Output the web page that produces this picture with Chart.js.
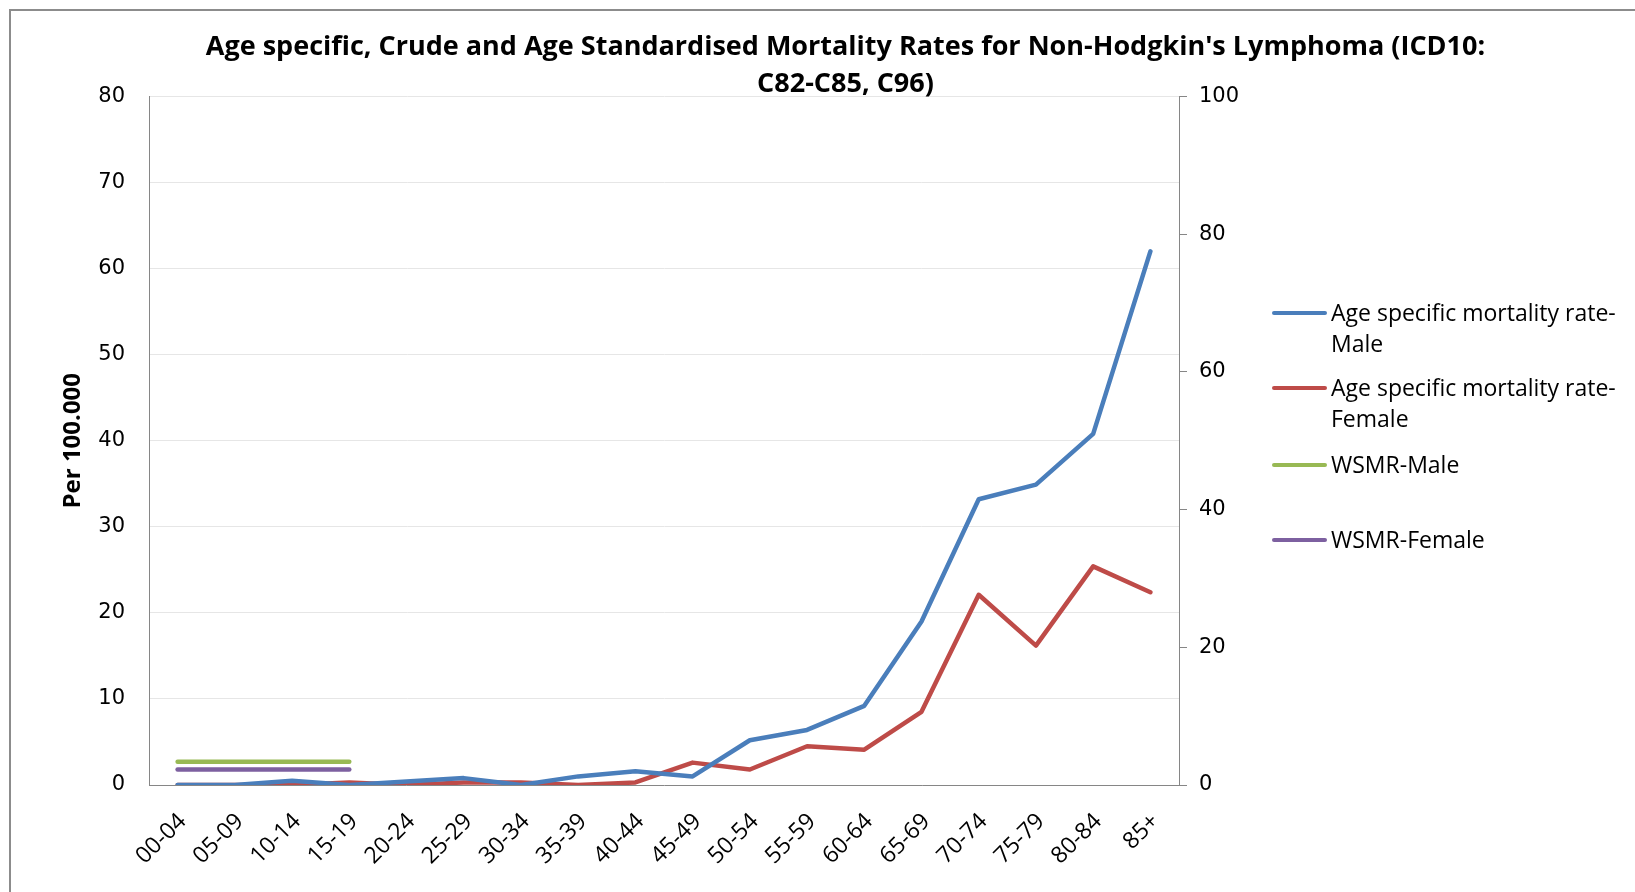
<!DOCTYPE html>
<html>
<head>
<meta charset="utf-8">
<script src="https://cdn.jsdelivr.net/npm/chart.js@4.4.1/dist/chart.umd.min.js"></script>
<style>
  html, body { margin: 0; padding: 0; background: #fff; }
  #wrap { position: relative; width: 1635px; height: 892px; overflow: hidden; background: #fff; }
  #frame { position: absolute; left: 9px; top: 9px; right: -10px; bottom: -10px;
           border-top: 2px solid #8c8c8c; border-left: 2px solid #8c8c8c; }
  #chart { position: absolute; left: 0; top: 0; }
  #legend { position: absolute; left: 1272px; top: 0; font-family: "Open Sans"; font-size: 23px; color: #000; }
  .item { position: absolute; left: 0; }
  .swatch { position: absolute; left: 0; width: 55px; height: 4px; border-radius: 2px; }
  .label { position: absolute; left: 59px; width: 304px; line-height: 31px; white-space: normal; }
</style>
</head>
<body>
<div id="wrap">
  <div id="frame"></div>
  <canvas id="chart" width="1635" height="892"></canvas>
  <div id="legend"></div>
</div>
<script>
// age groups
const ageGroups = ['00-04', '05-09', '10-14', '15-19', '20-24', '25-29', '30-34', '35-39', '40-44',
  '45-49', '50-54', '55-59', '60-64', '65-69', '70-74', '75-79', '80-84', '85+'];

// per 100.000
const maleRate = [0, 0, 0.5, 0, 0.4, 0.8, 0, 1.0, 1.6, 1.0, 5.2, 6.4, 9.2, 19.0, 33.2, 34.9, 40.8, 62.0];
const femaleRate = [0, 0, 0, 0.3, 0, 0.3, 0.3, 0, 0.3, 2.6, 1.8, 4.5, 4.1, 8.5, 22.1, 16.2, 25.4, 22.4];
const wsmrMale = [2.7, 2.7, 2.7, 2.7, null, null, null, null, null, null, null, null, null, null, null, null, null, null];
const wsmrFemale = [1.8, 1.8, 1.8, 1.8, null, null, null, null, null, null, null, null, null, null, null, null, null, null];

const leftTicks = { min: 0, max: 80, step: 10 };
const rightTicks = { min: 0, max: 100, step: 20 };

const seriesLabels = ['Age specific mortality rate-Male', 'Age specific mortality rate-Female', 'WSMR-Male', 'WSMR-Female'];
const seriesColors = ['#4A7EBB', '#BE4B48', '#98B954', '#7D60A0'];

const lineStyle = (i, data) => ({
  label: seriesLabels[i],
  data: data,
  borderColor: seriesColors[i],
  backgroundColor: seriesColors[i],
  borderWidth: 4.5,
  pointRadius: 0,
  tension: 0,
  borderCapStyle: 'round',
  borderJoinStyle: 'round',
  spanGaps: false,
  yAxisID: 'y'
});

const tickFont = { family: 'DejaVu Sans', size: 21 };

const chart = new Chart(document.getElementById('chart'), {
  type: 'line',
  data: {
    labels: ageGroups,
    datasets: [
      lineStyle(0, maleRate),
      lineStyle(1, femaleRate),
      lineStyle(2, wsmrMale),
      lineStyle(3, wsmrFemale)
    ]
  },
  options: {
    responsive: false,
    animation: false,
    layout: { padding: { left: 56, right: 0, top: 0, bottom: 0 } },
    plugins: {
      legend: { display: false },
      tooltip: { enabled: false },
      title: {
        display: true,
        text: ["Age specific, Crude and Age Standardised Mortality Rates for Non-Hodgkin's Lymphoma (ICD10:", 'C82-C85, C96)'],
        color: '#000',
        font: { family: 'Open Sans', size: 27, weight: 'bold', lineHeight: 1.36 },
        padding: { top: 29, bottom: -6 }
      }
    },
    scales: {
      x: {
        offset: true,
        grid: { display: false },
        border: { display: true, color: '#868686', width: 1 },
        ticks: {
          color: '#000',
          font: { family: 'Open Sans', size: 23 },
          minRotation: 45,
          maxRotation: 45,
          autoSkip: false,
          padding: 15,
          labelOffset: 5
        },
        afterFit: (s) => { s.height = 107; }
      },
      y: {
        position: 'left',
        min: leftTicks.min,
        max: leftTicks.max,
        ticks: { stepSize: leftTicks.step, color: '#000', font: tickFont, padding: 24 },
        grid: { color: '#e6e6e6', drawTicks: false, tickLength: 0 },
        border: { display: true, color: '#868686', width: 1 },
        title: {
          display: true,
          text: 'Per 100.000',
          color: '#000',
          font: { family: 'Open Sans', size: 24, weight: 'bold', lineHeight: 1.2 },
          padding: { top: 3, bottom: 0 }
        },
        afterFit: (s) => { s.width = 93; }
      },
      y1: {
        position: 'right',
        min: rightTicks.min,
        max: rightTicks.max,
        ticks: { stepSize: rightTicks.step, color: '#000', font: tickFont, padding: 12 },
        grid: { drawOnChartArea: false, drawTicks: true, tickLength: 8, color: '#868686' },
        border: { display: true, color: '#868686', width: 1 },
        afterFit: (s) => { s.width = 456; }
      }
    }
  }
});

// legend drawn as html, from the chart's own datasets
const legendRows = [313, 388, 465, 540];
const legendBox = document.getElementById('legend');
chart.data.datasets.forEach((ds, i) => {
  const item = document.createElement('div');
  item.className = 'item';
  item.style.top = legendRows[i] + 'px';
  const sw = document.createElement('div');
  sw.className = 'swatch';
  sw.style.top = '-2px';
  sw.style.background = ds.borderColor;
  const lb = document.createElement('div');
  lb.className = 'label';
  lb.style.top = '-16px';
  lb.textContent = ds.label;
  item.appendChild(sw);
  item.appendChild(lb);
  legendBox.appendChild(item);
});
</script>
</body>
</html>
